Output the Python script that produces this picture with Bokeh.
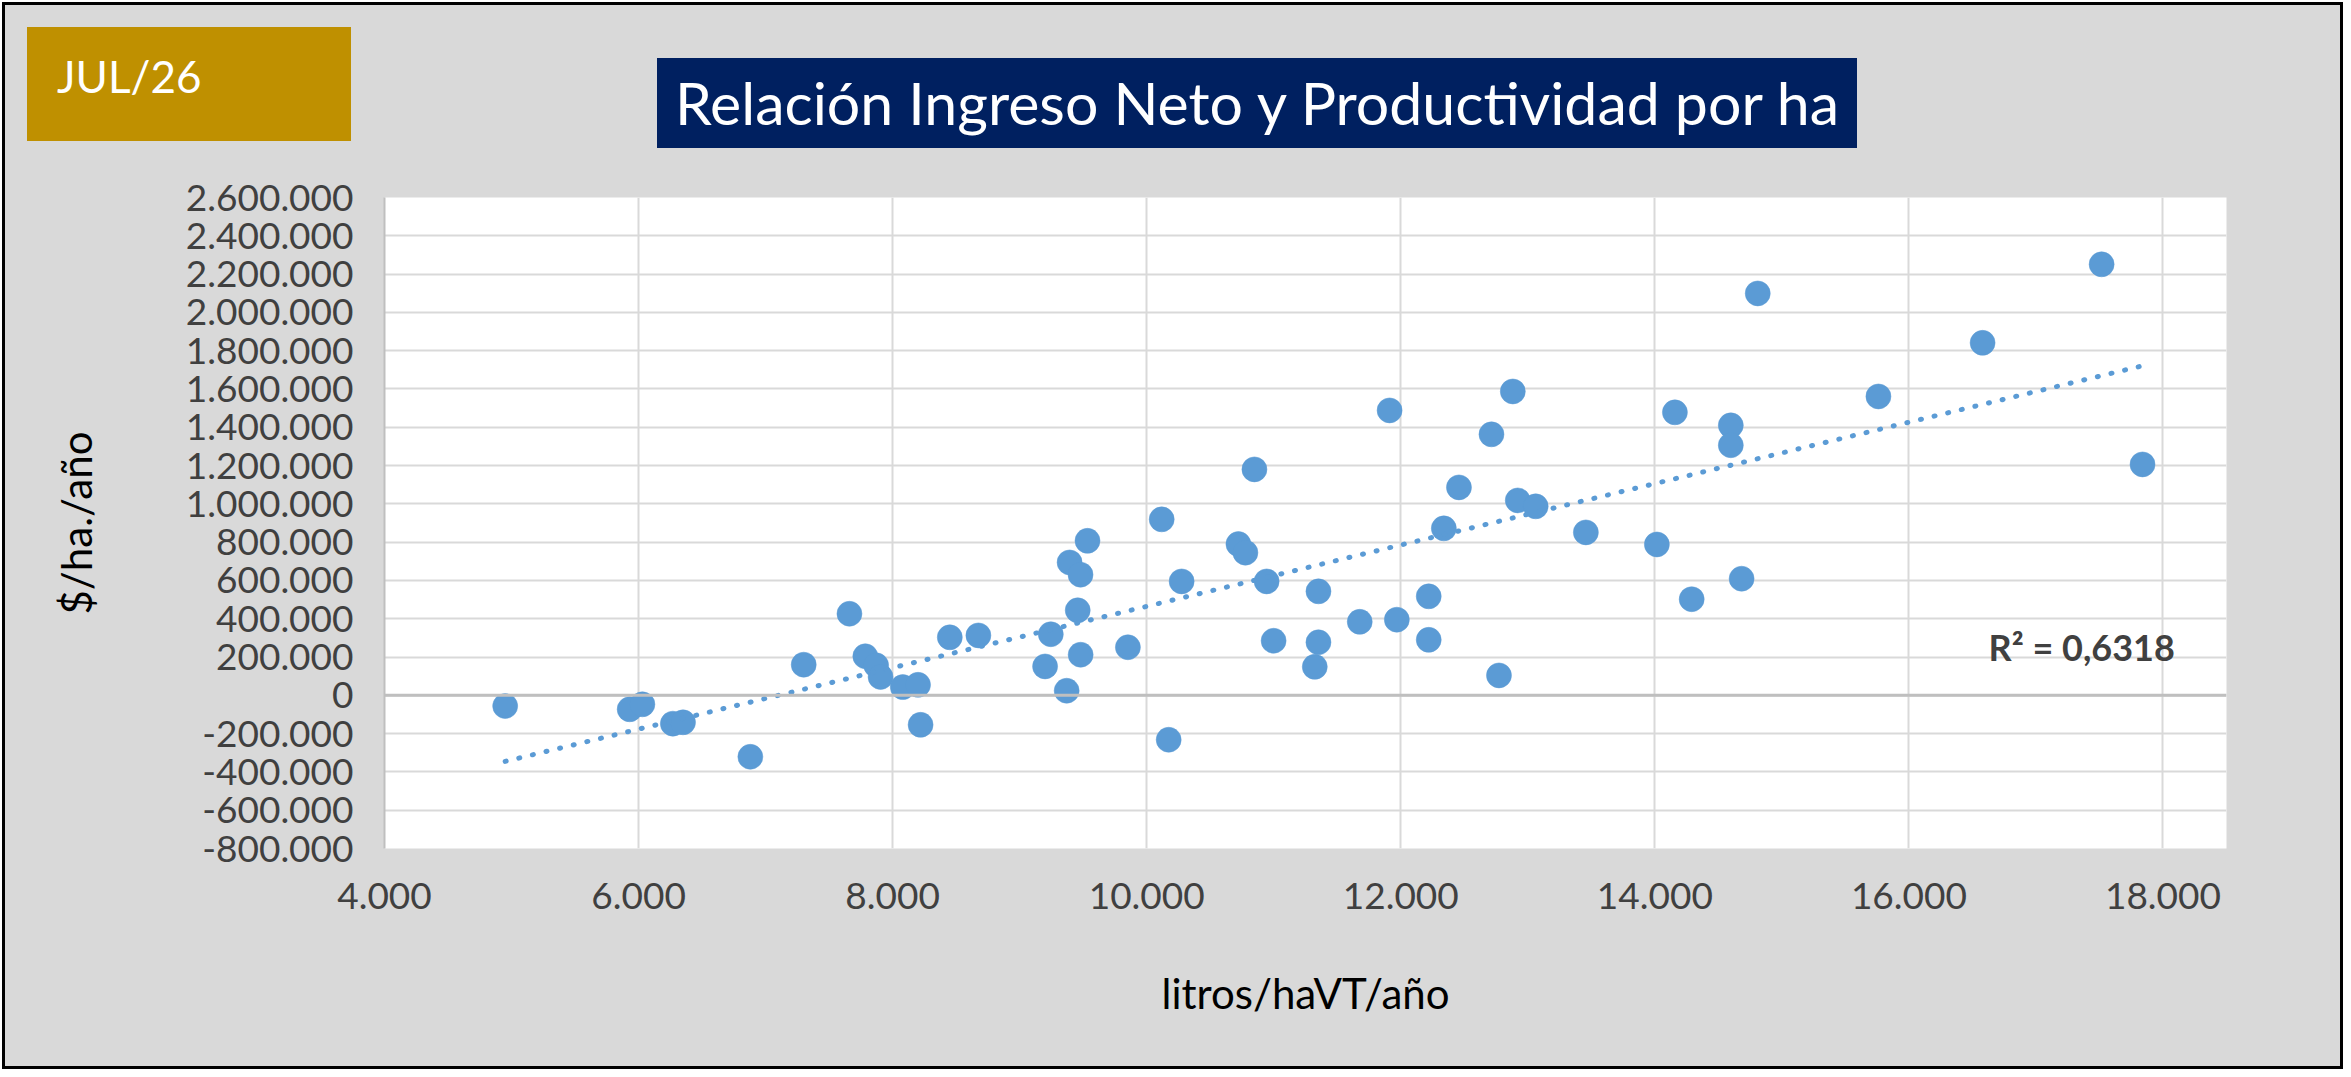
import numpy as np
from bokeh.plotting import figure
from bokeh.layouts import column
from bokeh.models import Label, Span, FixedTicker, Range1d, Div
from bokeh.embed import file_html
from bokeh.resources import INLINE

# ---- data ----
litros = [4950, 5930, 6030, 6270, 6350, 6880, 7300, 7660, 7785, 7870,
          7905, 8080, 8200, 8220, 8450, 8675, 9200, 9245, 9370, 9480,
          9457, 9393, 9479, 9534, 9852, 10118, 10275, 10173, 10722, 10777,
          10848, 10944, 10999, 11352, 11352, 11323, 11677, 11969, 12220, 12220,
          12339, 12458, 12773, 12921, 13062, 13457, 11912, 12882, 12714, 14016,
          14158, 14598, 14598, 14810, 15760, 16580, 17517, 17839, 14290, 14683]
ingreso = [-56000, -73000, -47000, -148000, -141000, -321000, 160000, 426000, 204000, 157000,
           96000, 43000, 55000, -154000, 303000, 313000, 151000, 319000, 24000, 212000,
           444000, 694000, 630000, 807000, 251000, 919000, 595000, -232000, 790000, 745000,
           1180000, 595000, 285000, 543000, 277000, 149000, 384000, 395000, 517000, 290000,
           872000, 1086000, 104000, 1018000, 987000, 851000, 1488000, 1587000, 1363000, 788000,
           1478000, 1410000, 1306000, 2099000, 1561000, 1841000, 2251000, 1206000, 502000, 609000]

x_ticks = [4000, 6000, 8000, 10000, 12000, 14000, 16000, 18000]
y_ticks = [-800000, -600000, -400000, -200000, 0, 200000, 400000, 600000, 800000,
           1000000, 1200000, 1400000, 1600000, 1800000, 2000000, 2200000, 2400000, 2600000]
x_bounds = [4000, 18500]
y_bounds = [-800000, 2600000]

badge_text = "JUL/26"
title_text = "Relación Ingreso Neto y Productividad por ha"
x_title = "litros/haVT/año"
y_title = "$/ha./año"
r2_text = "R² = 0,6318"


def miles(v):
    return f"{v:,}".replace(",", ".")


BG = "#d9d9d9"
W = 2335                 # content width (a 3px black frame goes around it)
TOP_H = 150
MAIN_H = 1061 - TOP_H
FL, FR, FT, FB = 379, 114, 42, 218

# ---- header strip (badge + title), plain HTML ----
header_html = (
    f'<div style="position:relative;width:{W}px;height:{TOP_H}px;background:{BG};'
    f'font-family:Lato,sans-serif;margin:0;padding:0;">'
    f'<div style="position:absolute;left:22px;top:22px;width:324px;height:114px;background:#bf9000;"></div>'
    f'<div style="position:absolute;left:652px;top:53px;width:1200px;height:90px;background:#002060;"></div>'
    f'<div style="position:absolute;left:52px;top:49px;color:white;font-size:44px;'
    f'line-height:44px;white-space:nowrap;">{badge_text}</div>'
    f'<div style="position:absolute;left:652px;width:1200px;top:68px;color:white;font-size:59px;'
    f'line-height:59px;text-align:center;white-space:nowrap;">{title_text}</div>'
    f'</div>'
)
head = Div(text=header_html, width=W, height=TOP_H,
           styles={"background-color": BG, "margin": "0", "padding": "0"})

# ---- main scatter ----
p = figure(width=W, height=MAIN_H, output_backend="svg", toolbar_location=None,
           x_range=Range1d(*x_bounds), y_range=Range1d(*y_bounds),
           min_border_left=FL, min_border_right=FR, min_border_top=FT, min_border_bottom=FB,
           background_fill_color="white", border_fill_color=BG,
           outline_line_color=None)

for ax in (p.xaxis, p.yaxis):
    ax.major_tick_line_color = None
    ax.minor_tick_line_color = None
    ax.major_tick_out = 0
    ax.major_tick_in = 0
    ax.minor_tick_out = 0
    ax.minor_tick_in = 0
    ax.major_label_text_font = "Lato"
    ax.major_label_text_font_size = "37px"
    ax.major_label_text_color = "#404040"
    ax.axis_label_text_font = "Lato"
    ax.axis_label_text_font_size = "42px"
    ax.axis_label_text_font_style = "normal"
    ax.axis_label_text_color = "black"

p.xaxis.ticker = FixedTicker(ticks=x_ticks)
p.yaxis.ticker = FixedTicker(ticks=y_ticks)
p.xaxis.major_label_overrides = {t: miles(t) for t in x_ticks}
p.yaxis.major_label_overrides = {t: miles(t) for t in y_ticks}
p.xaxis.axis_line_color = None
p.yaxis.axis_line_color = "#bfbfbf"
p.yaxis.axis_line_width = 2
p.xaxis.major_label_standoff = 34
p.yaxis.major_label_standoff = 31
p.xaxis.axis_label = x_title
p.yaxis.axis_label = y_title
p.xaxis.axis_label_standoff = 56
p.yaxis.axis_label_standoff = 82

p.xgrid.grid_line_color = "#d9d9d9"
p.xgrid.grid_line_width = 2
p.ygrid.grid_line_color = "#d9d9d9"
p.ygrid.grid_line_width = 2

p.add_layout(Span(location=0, dimension="width", line_color="#bfbfbf", line_width=3))

p.scatter(litros, ingreso, size=25, fill_color="#5b9bd5", line_color="#5b9bd5", line_width=0.5)

# linear trend line (least squares on the data)
coef = np.polyfit(litros, ingreso, 1)
tx = [min(litros), max(litros)]
ty = list(np.polyval(coef, tx))
p.line(tx, ty, line_color="#5b9bd5", line_width=5, line_dash="1 13", line_cap="round")

p.add_layout(Label(x=1604, y=202, x_units="screen", y_units="screen",
                   text=r2_text, text_font="Lato", text_font_size="36px",
                   text_font_style="bold", text_color="#404040",
                   text_align="left", text_baseline="alphabetic"))

layout = column(head, p, spacing=0,
                styles={"outline": "3px solid black", "margin": "5px 0 0 5px",
                        "background-color": BG})

open("out.html", "w").write(file_html(layout, INLINE))
